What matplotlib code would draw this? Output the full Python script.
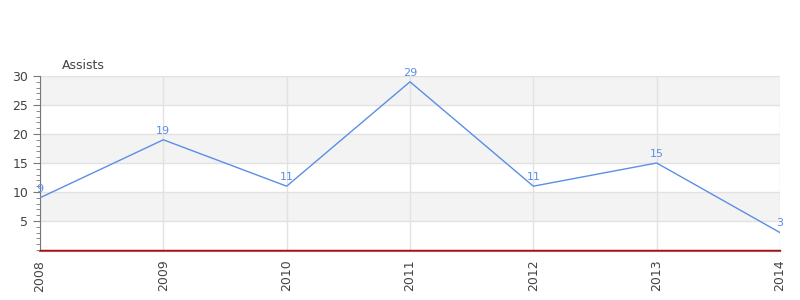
import matplotlib

matplotlib.use("Agg")
import matplotlib.pyplot as plt
from matplotlib.ticker import MultipleLocator

years = ["2008", "2009", "2010", "2011", "2012", "2013", "2014"]
assists = [9, 19, 11, 29, 11, 15, 3]

LINE = "#5b8ee6"
TEXT = "#444444"

fig = plt.figure(figsize=(8, 3), dpi=100)
ax = fig.add_axes([0.05, 0.1667, 0.925, 0.58])

# spine position first: moving it later resets the tick setup
for side in ("top", "right"):
    ax.spines[side].set_visible(False)
ax.spines["left"].set_color("#777777")
ax.spines["bottom"].set_color("#777777")
ax.spines["bottom"].set_linewidth(1.5)
ax.spines["bottom"].set_position(("outward", 1))

xs = list(range(len(years)))
ax.set_xlim(0, len(years) - 1)
ax.set_ylim(0, 30)

# alternating bands
for lo in range(0, 30, 5):
    if (lo // 5) % 2 == 1:
        ax.axhspan(lo, lo + 5, color="#f3f3f3", zorder=0, lw=0)

ax.yaxis.set_major_locator(MultipleLocator(5))
ax.yaxis.set_minor_locator(MultipleLocator(1))
ax.grid(True, which="major", color="#e2e2e2", lw=1, zorder=1)
ax.set_axisbelow(True)

ax.plot(xs, assists, color=LINE, lw=1, zorder=3)
for x, y in zip(xs, assists):
    ax.annotate(str(y), (x, y), xytext=(0, 3), textcoords="offset points",
                ha="center", va="bottom", color=LINE, fontsize=8, zorder=4)

ax.axhline(0, color="#cc0000", lw=1, zorder=5, clip_on=False)

ax.set_xticks(xs)
ax.set_xticklabels(years, rotation=90, fontsize=9, color=TEXT)
ax.set_yticks([5, 10, 15, 20, 25, 30])
ax.set_yticklabels(["5", "10", "15", "20", "25", "30"], fontsize=9, color=TEXT)
ax.tick_params(axis="x", length=0, pad=6)
ax.tick_params(axis="y", which="major", length=5, color="#777777")
ax.tick_params(axis="y", which="minor", length=3, color="#777777")

fig.text(0.0775, 0.77, "Assists", fontsize=9, color=TEXT)

fig.savefig("out.png", dpi=100)
